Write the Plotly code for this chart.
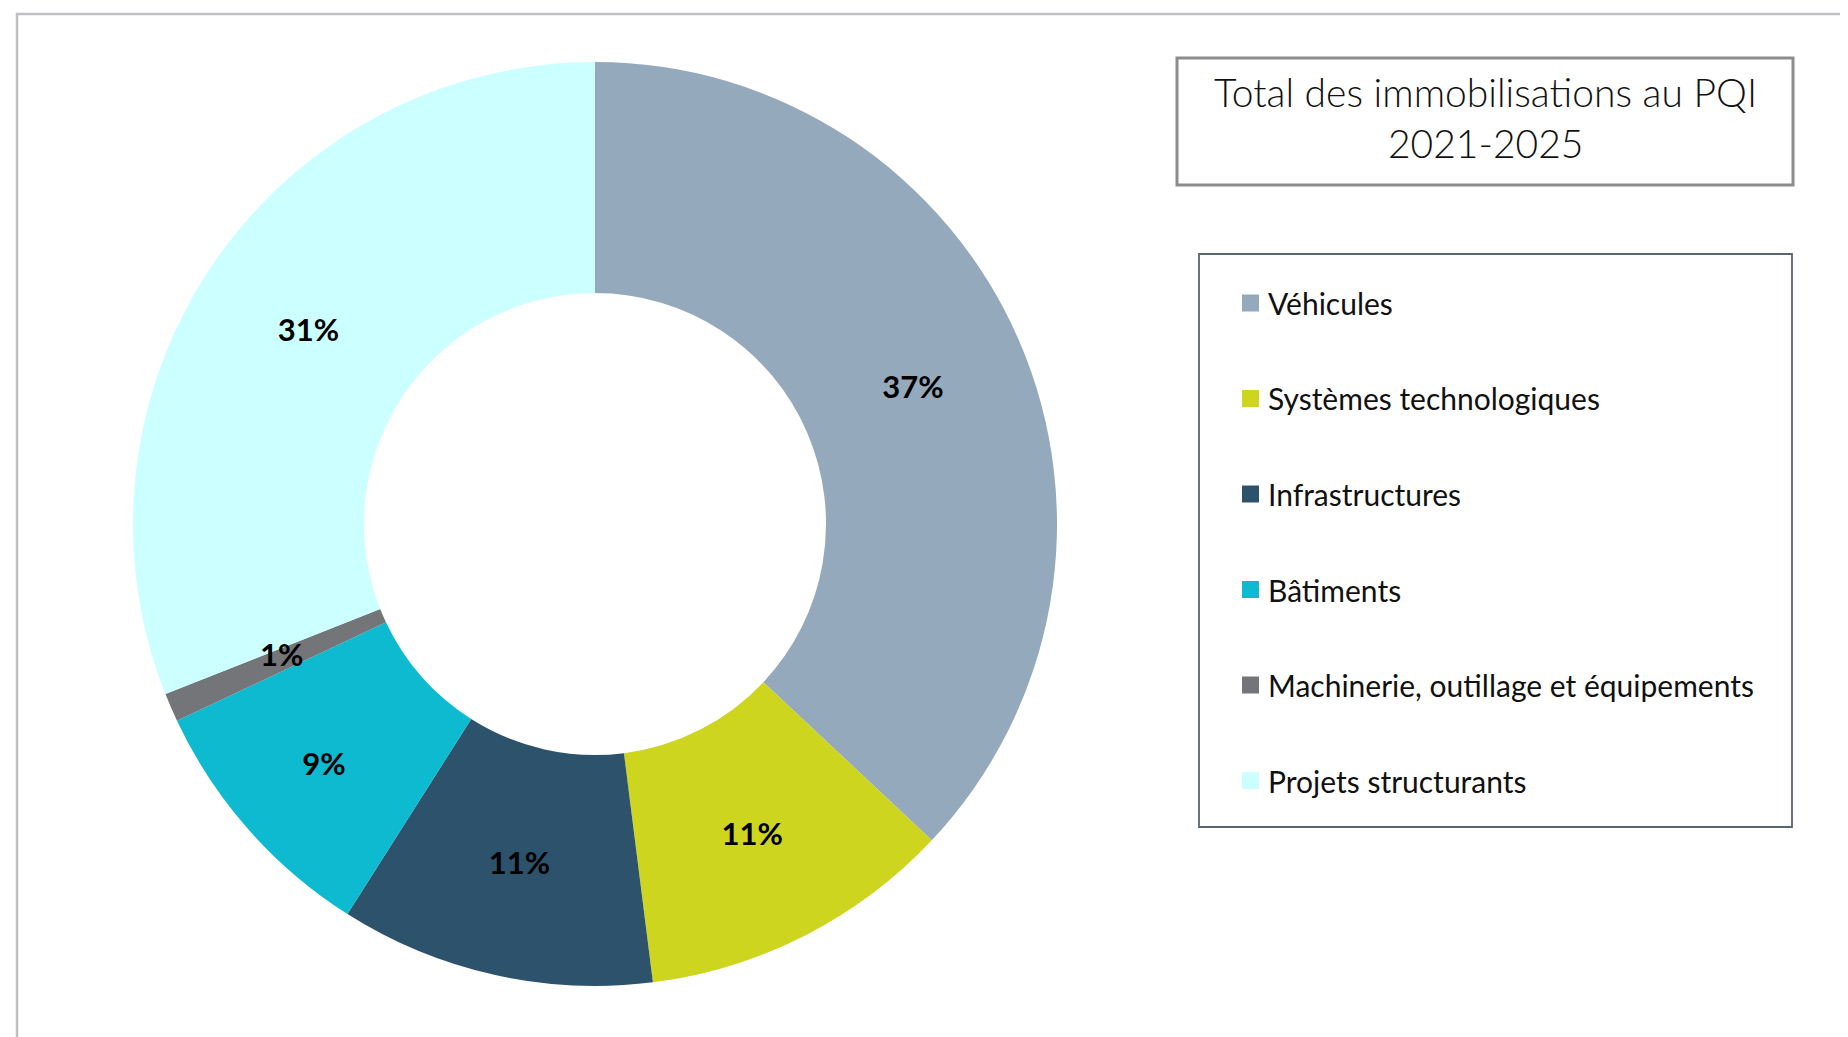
import math
import plotly.graph_objects as go

W, H = 1848, 1037

categories = ["Véhicules", "Systèmes technologiques", "Infrastructures",
              "Bâtiments", "Machinerie, outillage et équipements", "Projets structurants"]
shares = [37, 11, 11, 9, 1, 31]
colors = ["#95A9BC", "#CDD51E", "#2D526B", "#0DBAD0", "#737579", "#CCFFFF"]
title_lines = ["Total des immobilisations au PQI", "2021-2025"]

OFF = 8  # page body margin


def px(x):
    return (x - OFF) / W


def py(y):
    return 1 - (y - OFF) / H


cx, cy, r = 595, 524, 462
label_font = dict(family="Lato", size=31, color="#000000", weight="bold")

total = sum(shares)
small = [s / total < 0.02 for s in shares]
templates = ["" if sm else "%{percent:.0%}" for sm in small]

fig = go.Figure()
fig.add_trace(go.Pie(
    labels=categories,
    values=shares,
    sort=False,
    direction="clockwise",
    rotation=0,
    hole=0.5,
    marker=dict(colors=colors, line=dict(width=0)),
    texttemplate=templates,
    textposition="inside",
    insidetextorientation="horizontal",
    textfont=label_font,
    domain=dict(x=[px(cx - r), px(cx + r)], y=[py(cy + r), py(cy - r)]),
    showlegend=False,
    hoverinfo="label+percent",
))

shapes = []
annotations = []

# labels of thin slices, placed at the slice's mid-angle, mid-ring radius
cum = 0
rm = r * 0.74
for s, sm in zip(shares, small):
    mid = (cum + s / 2) / total * 2 * math.pi
    cum += s
    if sm:
        annotations.append(dict(
            text=f"{round(100 * s / total)}%", xref="paper", yref="paper",
            x=px(cx + rm * math.sin(mid)), y=py(cy - rm * math.cos(mid)),
            xanchor="center", yanchor="middle", yshift=6, showarrow=False, font=label_font))

# outer frame
shapes.append(dict(type="rect", xref="paper", yref="paper",
                   x0=px(17), x1=1.2, y0=-0.2, y1=py(14),
                   line=dict(color="#BFC0C4", width=2.5), fillcolor="rgba(0,0,0,0)", layer="below"))

# title box
shapes.append(dict(type="rect", xref="paper", yref="paper",
                   x0=px(1177), x1=px(1793), y0=py(185), y1=py(58),
                   line=dict(color="#8C8C8C", width=3), fillcolor="#FFFFFF"))
for line, ty in zip(title_lines, [92, 143]):
    annotations.append(dict(
        text=line, xref="paper", yref="paper",
        x=px((1177 + 1793) / 2), y=py(ty), xanchor="center", yanchor="middle",
        showarrow=False, align="center",
        font=dict(family="Lato", size=39, color="#111111", weight=300),
    ))

# legend box
shapes.append(dict(type="rect", xref="paper", yref="paper",
                   x0=px(1199), x1=px(1792), y0=py(827), y1=py(254),
                   line=dict(color="#5A6570", width=1.8), fillcolor="rgba(0,0,0,0)"))

first_y, step = 303, 95.5
sq = 17
for i, (lab, col) in enumerate(zip(categories, colors)):
    yc = first_y + i * step
    shapes.append(dict(type="rect", xref="paper", yref="paper",
                       x0=px(1242), x1=px(1242 + sq), y0=py(yc + sq / 2), y1=py(yc - sq / 2),
                       line=dict(width=0), fillcolor=col))
    annotations.append(dict(text=lab, xref="paper", yref="paper",
                            x=px(1266), y=py(yc), xanchor="left", yanchor="middle",
                            showarrow=False,
                            font=dict(family="Lato", size=30, color="#111111")))

fig.update_layout(
    width=W, height=H,
    margin=dict(l=0, r=0, t=0, b=0),
    paper_bgcolor="#FFFFFF", plot_bgcolor="#FFFFFF",
    uniformtext=dict(minsize=31, mode="show"),
    shapes=shapes, annotations=annotations,
    showlegend=False,
)

fig.write_html("out.html")
